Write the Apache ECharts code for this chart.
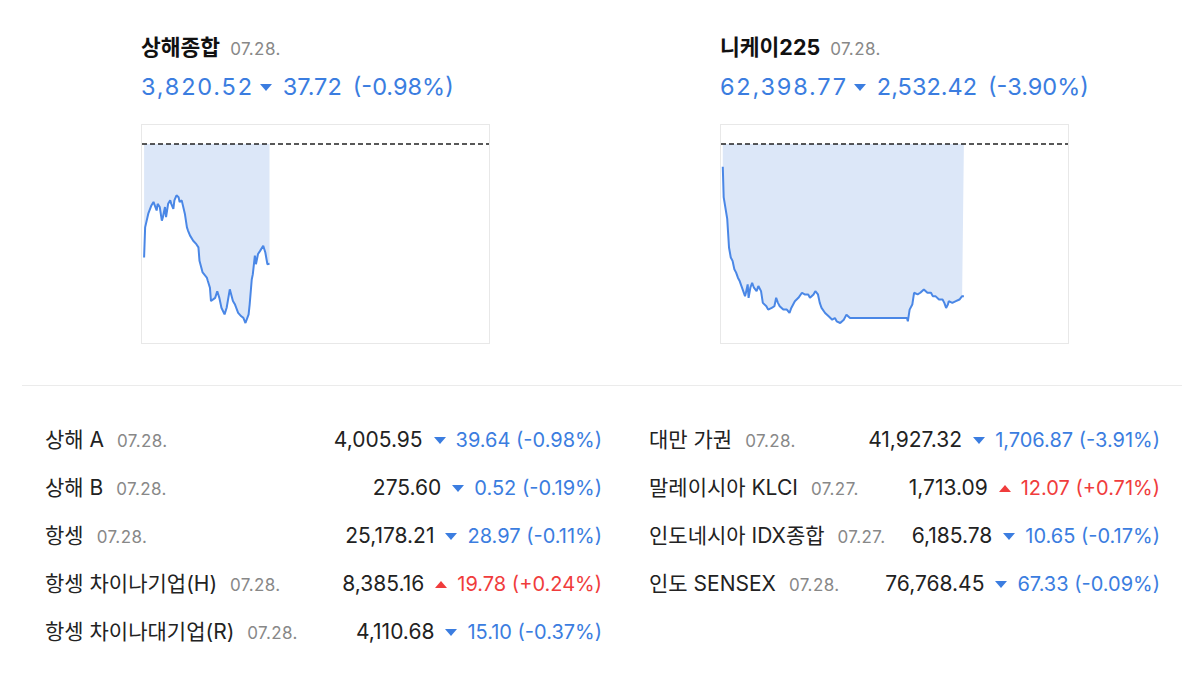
<!DOCTYPE html>
<html>
<head>
<meta charset="utf-8">
<title>해외 증시</title>
<script src="https://cdn.jsdelivr.net/npm/echarts@6/dist/echarts.min.js"></script>
<style>
body { margin:0; width:1200px; height:674px; background:#fff; position:relative; overflow:hidden;
       font-family: Inter, "Noto Sans CJK KR", sans-serif; color:#222; }
.hd { position:absolute; }
.hd .t1 { position:absolute; top:34px; left:0; white-space:nowrap; line-height:26px; }
.hd .t1 b { font-size:21.5px; font-weight:700; color:#111; }
.hd .t1 span { font-size:17px; color:#888; margin-left:10px; letter-spacing:0.4px; }
.hd .t2 { position:absolute; top:72px; left:0; white-space:nowrap; line-height:30px; font-size:23.5px; color:#3b7de0; }
.hd .t2 .big { letter-spacing:1.8px; }
.box { position:absolute; top:124px; width:347px; height:218px; border:1px solid #e8e8e8; }
.box div.c { width:347px; height:218px; }
.sep { position:absolute; left:22px; top:385px; width:1160px; height:1px; background:#ebebeb; }
.col { position:absolute; top:416px; }
.row { height:48px; line-height:48px; display:flex; justify-content:space-between; white-space:nowrap; font-size:21px; }
.row .dt { font-size:17px; color:#888; margin-left:13px; letter-spacing:0.4px; }
.row .val { color:#222; }
.row .chg { font-size:20px; }
.dn, .up { display:inline-block; width:0; height:0; border-left:6.5px solid transparent; border-right:6.5px solid transparent; vertical-align:middle; margin:0 10px 0 11px; position:relative; top:-1px; }
.dn { border-top:7px solid #3b7de0; }
.up { border-bottom:7px solid #f03c3c; }
.blue { color:#3b7de0; }
.red { color:#f03c3c; }
</style>
</head>
<body>
<div class="hd" style="left:141px;">
  <div class="t1"><b>상해종합</b><span>07.28.</span></div>
  <div class="t2" id="sh_line"></div>
</div>
<div class="hd" style="left:720px;">
  <div class="t1"><b>니케이225</b><span>07.28.</span></div>
  <div class="t2" id="nk_line"></div>
</div>
<div class="box" style="left:141px;"><div class="c" id="sh_chart"></div></div>
<div class="box" style="left:720px;"><div class="c" id="nk_chart"></div></div>
<div class="sep"></div>
<div class="col" id="col_left" style="left:45px; width:557px;"></div>
<div class="col" id="col_right" style="left:649px; width:511px;"></div>

<script type="text/javascript">
// 상해종합 (분, 지수)
var shPrev = 3858.24;
var shLast = 3820.52, shChg = -37.72, shPct = -0.98;
var shTimes = [0,1,4,7,9,10,12,13,15,17,18,20,21,23,25,26,28,29,31,33,34,36,37,39,41,42,44,47,50,52,
               53,56,60,61,63,64,68,70,72,74,77,79,82,85,87,90,93,95,97,100,101,103,104,106,107,109,111,114,116,118,120];
var shPrices = [3822.5,3832.0,3836.3,3838.9,3840.0,3839.4,3837.3,3839.4,3838.4,3834.1,3835.2,3838.4,3835.2,3839.4,3840.5,
                3839.4,3837.8,3840.5,3842.1,3841.5,3840.0,3840.5,3840.0,3836.3,3832.0,3831.0,3829.4,3827.8,3826.7,3825.7,
                3821.5,3817.8,3816.2,3815.1,3813.0,3808.8,3809.8,3811.9,3809.8,3806.7,3804.6,3806.7,3812.5,3808.8,3807.7,
                3805.1,3804.0,3803.5,3801.9,3804.6,3807.7,3815.6,3817.2,3823.1,3820.4,3823.6,3824.6,3826.2,3824.1,3820.4,3820.52];

// 니케이225
var nkPrev = 64931.19;
var nkLast = 62398.77, nkChg = -2532.42, nkPct = -3.90;
var nkTimes = [0,1,3,5,6,7,9,11,13,15,17,19,21,23,25,26,28,29,31,33,35,36,38,40,41,43,45,47,49,51,
               53,55,57,58,60,62,64,66,68,70,72,74,75,77,79,81,83,85,87,89,90,92,94,96,98,100,102,104,106,107,
               109,111,113,115,117,119,121,123,124,126,128,130,132,134,136,138,139,141,143,145,147,207,208,210,213,215,217,219,221,222,
               224,226,228,230,232,234,236,238,239,241,243,245,247,249,251,253,254,256,258,260,262,264,266,268,269,271];
var nkPrices = [64551,64048,64020,63685,63657,63209,63042,62986,62846,62790,62706,62650,62567,62539,62399,62455,62595,62371,62539,62622,
                62539,62567,62483,62567,62567,62483,62287,62259,62231,62175,62147,62203,62203,62231,62371,62287,62231,62203,62175,62147,
                62175,62175,62119,62203,62231,62315,62287,62371,62399,62455,62427,62427,62455,62427,62371,62343,62427,62483,62483,62427,
                62287,62203,62175,62119,62119,62063,62035,62007,62007,62035,61980,61980,61952,61980,62007,62035,62091,62091,62035,62063,
                62035,62035,61980,62175,62259,62455,62455,62427,62455,62455,62483,62511,62483,62455,62427,62455,62399,62427,62399,62371,
                62343,62315,62343,62287,62203,62259,62315,62343,62287,62315,62315,62343,62343,62371,62399,62398.77];

// 하단 표
var leftNames = ['상해 A', '상해 B', '항셍', '항셍 차이나기업(H)', '항셍 차이나대기업(R)'];
var leftDates = ['07.28.', '07.28.', '07.28.', '07.28.', '07.28.'];
var leftValues = [4005.95, 275.60, 25178.21, 8385.16, 4110.68];
var leftChanges = [-39.64, -0.52, -28.97, 19.78, -15.10];
var leftPcts = [-0.98, -0.19, -0.11, 0.24, -0.37];

var rightNames = ['대만 가권', '말레이시아 KLCI', '인도네시아 IDX종합', '인도 SENSEX'];
var rightDates = ['07.28.', '07.27.', '07.27.', '07.28.'];
var rightValues = [41927.32, 1713.09, 6185.78, 76768.45];
var rightChanges = [-1706.87, 12.07, -10.65, -67.33];
var rightPcts = [-3.91, 0.71, -0.17, -0.09];

function fmt(v) {
    return Math.abs(v).toLocaleString('en-US', {minimumFractionDigits: 2, maximumFractionDigits: 2});
}
function pctText(p) {
    return '(' + (p < 0 ? '-' : '+') + fmt(p) + '%)';
}

function headLine(id, last, chg, pct) {
    var cls = chg < 0 ? 'blue' : 'red';
    document.getElementById(id).innerHTML =
        '<span class="big ' + cls + '">' + fmt(last) + '</span>' +
        '<span class="' + (chg < 0 ? 'dn' : 'up') + '" style="margin:0 11px 0 6px;"></span>' +
        '<span class="' + cls + '">' + fmt(chg) + '</span>' +
        '<span class="' + cls + '" style="margin-left:11px;">' + pctText(pct) + '</span>';
}

function fillCol(id, names, dates, values, changes, pcts) {
    var html = '';
    for (var i = 0; i < names.length; i++) {
        var cls = changes[i] < 0 ? 'blue' : 'red';
        html += '<div class="row"><div>' + names[i] + '<span class="dt">' + dates[i] + '</span></div>' +
            '<div><span class="val">' + fmt(values[i]) + '</span>' +
            '<span class="' + (changes[i] < 0 ? 'dn' : 'up') + '"></span>' +
            '<span class="chg ' + cls + '">' + fmt(changes[i]) + ' ' + pctText(pcts[i]) + '</span></div></div>';
    }
    document.getElementById(id).innerHTML = html;
}

function drawMini(id, times, prices, prev, xMin, xMax) {
    var chart = echarts.init(document.getElementById(id));
    var pts = [];
    for (var i = 0; i < times.length; i++) pts.push([times[i], prices[i]]);
    chart.setOption({
        animation: false,
        grid: {left: 0, right: 0, top: 19, bottom: 20},
        xAxis: {type: 'value', min: xMin, max: xMax, show: false},
        yAxis: {type: 'value', min: 'dataMin', max: prev, show: false},
        series: [{
            type: 'line',
            data: pts,
            showSymbol: false,
            lineStyle: {color: '#4a87e6', width: 2},
            areaStyle: {origin: 'end', color: '#dce7f8', opacity: 1},
            markLine: {
                silent: true,
                symbol: 'none',
                label: {show: false},
                lineStyle: {color: '#222', type: [5, 3], width: 1.5},
                data: [{yAxis: prev}]
            }
        }]
    });
}

headLine('sh_line', shLast, shChg, shPct);
headLine('nk_line', nkLast, nkChg, nkPct);
fillCol('col_left', leftNames, leftDates, leftValues, leftChanges, leftPcts);
fillCol('col_right', rightNames, rightDates, rightValues, rightChanges, rightPcts);
drawMini('sh_chart', shTimes, shPrices, shPrev, -2, 330);
drawMini('nk_chart', nkTimes, nkPrices, nkPrev, -2, 388);
</script>
</body>
</html>
